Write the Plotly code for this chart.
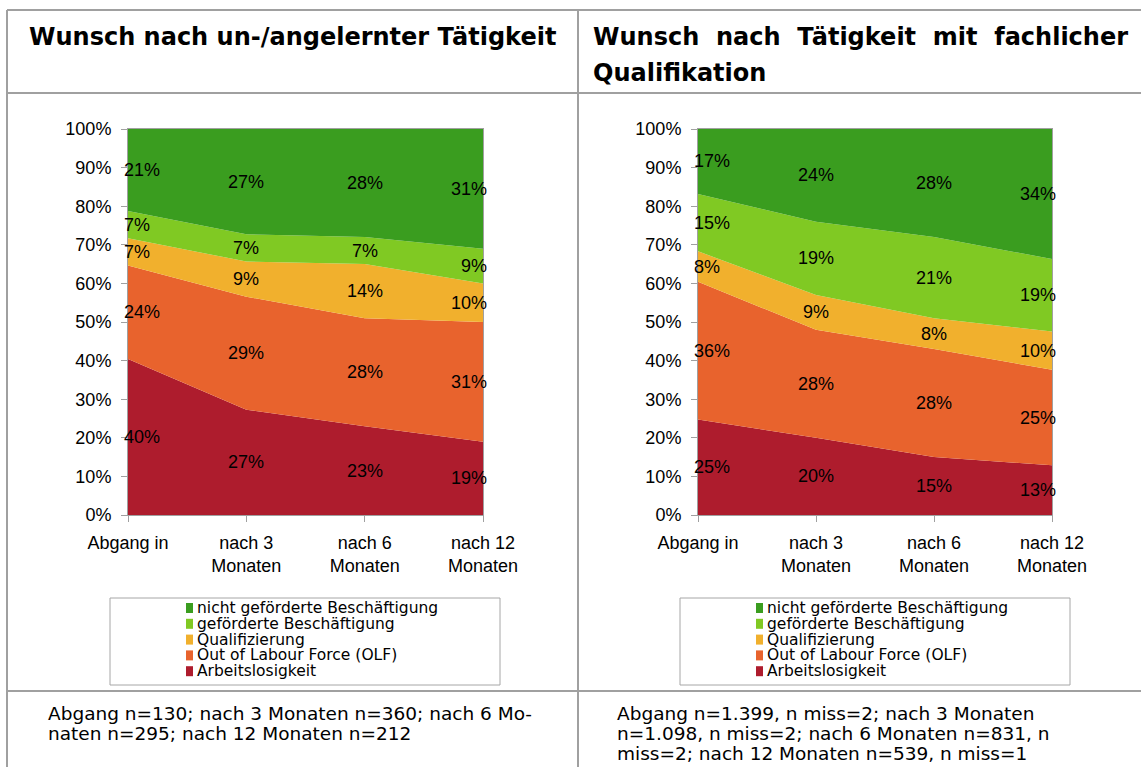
import plotly.graph_objects as go

W, H = 1141, 767

# ---------------- data ----------------
categories = ["Abgang in", "nach 3<br>Monaten", "nach 6<br>Monaten", "nach 12<br>Monaten"]
series_names = ["Arbeitslosigkeit", "Out of Labour Force (OLF)", "Qualifizierung",
                "geförderte Beschäftigung", "nicht geförderte Beschäftigung"]
series_colors = ["#AE1C2D", "#E8632D", "#F1B02D", "#80C923", "#3A9D1F"]

left_arbeitslos = [40, 27, 23, 19]
left_olf = [24, 29, 28, 31]
left_qual = [7, 9, 14, 10]
left_gef = [7, 7, 7, 9]
left_nicht = [21, 27, 28, 31]

right_arbeitslos = [25, 20, 15, 13]
right_olf = [36, 28, 28, 25]
right_qual = [8, 9, 8, 10]
right_gef = [15, 19, 21, 19]
right_nicht = [17, 24, 28, 34]

y_tickvals = list(range(0, 101, 10))
y_ticktext = [f"{v}%" for v in y_tickvals]

title_left = "Wunsch nach un-/angelernter Tätigkeit"
GAP = "\u00a0 "
title_right_1 = GAP.join(["Wunsch", "nach", "Tätigkeit", "mit", "fachlicher"])
title_right_2 = "Qualifikation"
note_left = ["Abgang n=130; nach 3 Monaten n=360; nach 6 Mo-",
             "naten n=295; nach 12 Monaten n=212"]
note_right = ["Abgang n=1.399, n miss=2; nach 3 Monaten",
              "n=1.098, n miss=2; nach 6 Monaten n=831, n",
              "miss=2; nach 12 Monaten n=539, n miss=1"]


def X(px):
    return px / W


def Y(py):
    return 1 - py / H


CHART_FONT = "Liberation Sans, Arial, sans-serif"
TEXT_FONT = "DejaVu Sans, sans-serif"
GRID = "#A0A0A0"

fig = go.Figure()

panels = [
    dict(series=[left_arbeitslos, left_olf, left_qual, left_gef, left_nicht],
         xa="x", ya="y", sg="left", x0=128, x1=483, dx=0),
    dict(series=[right_arbeitslos, right_olf, right_qual, right_gef, right_nicht],
         xa="x2", ya="y2", sg="right", x0=698, x1=1052, dx=570),
]

xs = list(range(len(categories)))

for p in panels:
    for k, (name, vals, col) in enumerate(zip(series_names, p["series"], series_colors)):
        fig.add_trace(go.Scatter(
            x=xs, y=vals, name=name, stackgroup=p["sg"],
            groupnorm="percent" if k == 0 else None,
            mode="lines", line=dict(width=0, color=col), fillcolor=col,
            xaxis=p["xa"], yaxis=p["ya"], showlegend=False, hoverinfo="skip"))

    # data labels in the middle of each band
    n = len(xs)
    totals = [sum(s[i] for s in p["series"]) for i in range(n)]
    cum = [0.0] * n
    for s in p["series"]:
        for i, v in enumerate(s):
            norm = v / totals[i] * 100
            mid = cum[i] + norm / 2
            cum[i] += norm
            if i == 0:
                xanchor, xshift = "left", -6
            elif i == n - 1:
                xanchor, xshift = "right", 6
            else:
                xanchor, xshift = "center", 0
            fig.add_annotation(x=i, y=mid, xref=p["xa"], yref=p["ya"], text=f"{v}%",
                               showarrow=False, xanchor=xanchor, xshift=xshift,
                               yanchor="middle",
                               font=dict(family=CHART_FONT, size=18, color="black"))

    # legend box (drawn by hand, below each chart)
    dx = p["dx"]
    fig.add_shape(type="rect", xref="paper", yref="paper",
                  x0=X(110 + dx), x1=X(500 + dx), y0=Y(685), y1=Y(598),
                  line=dict(color="#A6A6A6", width=1), fillcolor="rgba(0,0,0,0)")
    order = list(range(len(series_names)))[::-1]
    for j, k in enumerate(order):
        yc = 608 + 15.8 * j
        fig.add_shape(type="rect", xref="paper", yref="paper",
                      x0=X(186 + dx), x1=X(193 + dx), y0=Y(yc + 5), y1=Y(yc - 5),
                      line=dict(width=0), fillcolor=series_colors[k])
        fig.add_annotation(x=X(195 + dx), y=Y(yc), xref="paper", yref="paper",
                           text=series_names[k], showarrow=False,
                           xanchor="left", yanchor="middle",
                           font=dict(family=TEXT_FONT, size=15.5, color="black"))

axis_common = dict(showline=True, linecolor=GRID, linewidth=1, mirror=True,
                   ticks="outside", ticklen=6, tickcolor=GRID, tickwidth=1,
                   showgrid=False, zeroline=False, fixedrange=True, automargin=False,
                   tickfont=dict(family=CHART_FONT, size=18, color="black"))

layout_axes = {}
for idx, p in enumerate(panels):
    sfx = "" if idx == 0 else str(idx + 1)
    layout_axes["xaxis" + sfx] = dict(
        axis_common, domain=[X(p["x0"]), X(p["x1"])], range=[0, len(xs) - 1],
        tickmode="array", tickvals=xs, ticktext=categories,
        anchor=p["ya"], ticklabelstandoff=5)
    layout_axes["yaxis" + sfx] = dict(
        axis_common, domain=[Y(515), Y(129)], range=[0, 100],
        tickmode="array", tickvals=y_tickvals, ticktext=y_ticktext,
        anchor=p["xa"], ticklabelstandoff=6)

# table grid lines
lines = [
    (7, 10, 1141, 10),
    (7, 10, 7, 767),
    (578, 10, 578, 767),
    (7, 93, 1141, 93),
    (7, 691, 1141, 691),
]
for (a, b, c, d) in lines:
    fig.add_shape(type="line", xref="paper", yref="paper",
                  x0=X(a), y0=Y(b), x1=X(c), y1=Y(d),
                  line=dict(color=GRID, width=2))

# headers
HEAD = dict(family=TEXT_FONT, size=24, color="black", weight="bold")
fig.add_annotation(x=X(292.5), y=Y(37), xref="paper", yref="paper", text=title_left,
                   showarrow=False, xanchor="center", yanchor="middle", font=HEAD)
fig.add_annotation(x=X(591), y=Y(37), xref="paper", yref="paper", text=title_right_1,
                   showarrow=False, xanchor="left", yanchor="middle", font=HEAD)
fig.add_annotation(x=X(591), y=Y(73), xref="paper", yref="paper", text=title_right_2,
                   showarrow=False, xanchor="left", yanchor="middle", font=HEAD)

# footnotes
NOTE = dict(family=TEXT_FONT, size=18.5, color="black")
for j, t in enumerate(note_left):
    fig.add_annotation(x=X(46), y=Y(713 + 20 * j), xref="paper", yref="paper", text=t,
                       showarrow=False, xanchor="left", yanchor="middle", font=NOTE)
for j, t in enumerate(note_right):
    fig.add_annotation(x=X(615), y=Y(713 + 20 * j), xref="paper", yref="paper", text=t,
                       showarrow=False, xanchor="left", yanchor="middle", font=NOTE)

fig.update_layout(
    width=W, height=H, margin=dict(l=0, r=0, t=0, b=0, pad=0, autoexpand=False),
    paper_bgcolor="white", plot_bgcolor="white", showlegend=False,
    **layout_axes)

fig.write_html("out.html",
               config={"displayModeBar": False, "staticPlot": True},
               post_script="document.body.style.margin='0';"
                           "document.documentElement.style.overflow='hidden';")
